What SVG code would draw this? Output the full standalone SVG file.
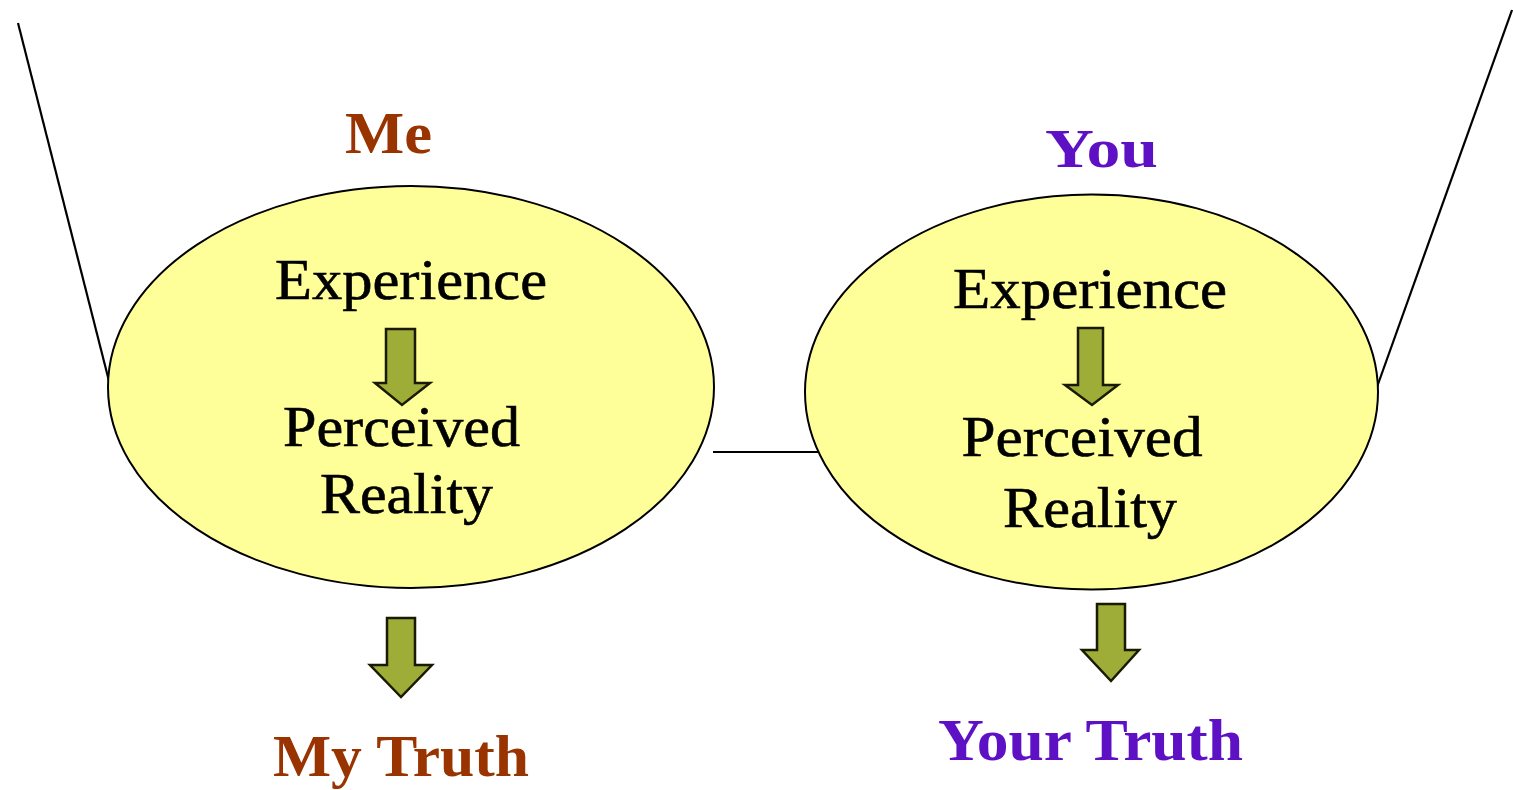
<svg xmlns="http://www.w3.org/2000/svg" width="1513" height="790" viewBox="0 0 1513 790">
<style>
.bubble{fill:#ffff99;stroke:#000;stroke-width:2}
.arrow{fill:#9eac38;stroke:#1a1a00;stroke-width:2.5;stroke-linejoin:miter}
.line{stroke:#000;stroke-width:2.2;fill:none}
.t{font-family:"Liberation Serif","Times New Roman",serif;font-size:56px;fill:#000;text-anchor:middle;stroke:#000;stroke-width:0.6}
.h{font-family:"Liberation Serif","Times New Roman",serif;font-weight:bold;text-anchor:middle}
.me{fill:#993300}
.you{fill:#5e10c4}
</style>
<rect width="1513" height="790" fill="#fff"/>
<g id="connectors">
<line class="line" x1="18" y1="23" x2="110" y2="385"/>
<line class="line" x1="1512" y1="10" x2="1377" y2="387"/>
<line class="line" x1="713" y1="452" x2="820" y2="452"/>
</g>
<g id="me-bubble">
<ellipse class="bubble" cx="411" cy="387" rx="303" ry="201"/>
<text class="t" x="411" y="299" textLength="272" lengthAdjust="spacingAndGlyphs">Experience</text>
<path class="arrow" d="M386,329 H415 V383 H430 L402,405 L375,383 H386 Z"/>
<text class="t" x="401.5" y="446" textLength="237" lengthAdjust="spacingAndGlyphs">Perceived</text>
<text class="t" x="406.5" y="513" textLength="173" lengthAdjust="spacingAndGlyphs">Reality</text>
</g>
<g id="you-bubble">
<ellipse class="bubble" cx="1091.5" cy="392" rx="286.5" ry="197.5"/>
<text class="t" x="1090" y="308" textLength="274" lengthAdjust="spacingAndGlyphs">Experience</text>
<path class="arrow" d="M1078,328 H1103 V385 H1118 L1092,405 L1065,385 H1078 Z"/>
<text class="t" x="1082" y="456" textLength="241" lengthAdjust="spacingAndGlyphs">Perceived</text>
<text class="t" x="1090" y="527" textLength="174" lengthAdjust="spacingAndGlyphs">Reality</text>
</g>
<g id="me-label">
<text class="h me" x="388.5" y="153" font-size="60" textLength="87" lengthAdjust="spacingAndGlyphs">Me</text>
</g>
<g id="you-label">
<text class="h you" x="1101.5" y="167" font-size="54" textLength="113" lengthAdjust="spacingAndGlyphs">You</text>
</g>
<g id="me-truth-arrow">
<path class="arrow" d="M387,618 H415 V665 H432 L401,697 L370,665 H387 Z"/>
</g>
<g id="you-truth-arrow">
<path class="arrow" d="M1097,604 H1125 V650 H1139 L1111,681 L1082,650 H1097 Z"/>
</g>
<g id="my-truth">
<text class="h me" x="401" y="776" font-size="60" textLength="256" lengthAdjust="spacingAndGlyphs">My Truth</text>
</g>
<g id="your-truth">
<text class="h you" x="1090.5" y="760" font-size="60" textLength="305" lengthAdjust="spacingAndGlyphs">Your Truth</text>
</g>
</svg>
